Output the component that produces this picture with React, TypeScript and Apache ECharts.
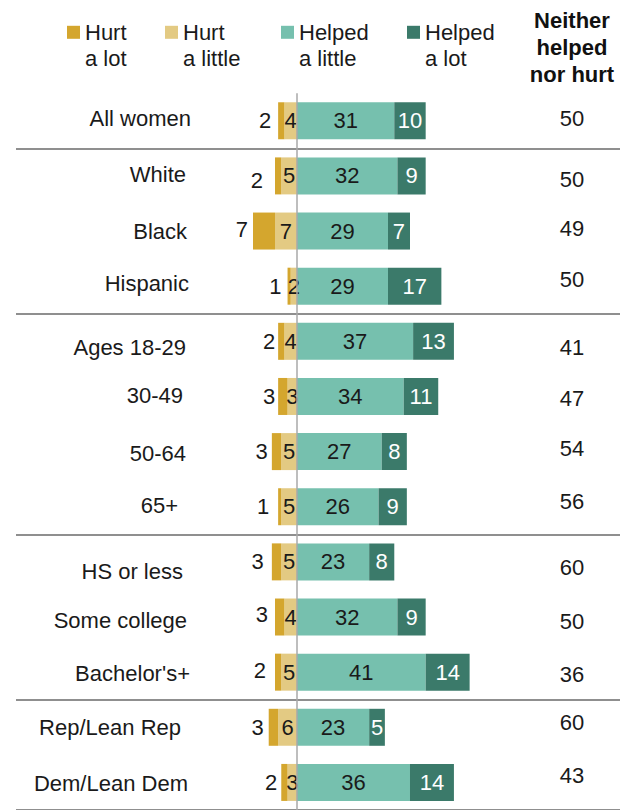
import React, { useEffect, useRef } from "react";
import * as echarts from "echarts";

const categories = [
  "All women",
  "White",
  "Black",
  "Hispanic",
  "Ages 18-29",
  "30-49",
  "50-64",
  "65+",
  "HS or less",
  "Some college",
  "Bachelor's+",
  "Rep/Lean Rep",
  "Dem/Lean Dem",
];
const hurtALot = [2, 2, 7, 1, 2, 3, 3, 1, 3, 3, 2, 3, 2];
const hurtALittle = [4, 5, 7, 2, 4, 3, 5, 5, 5, 4, 5, 6, 3];
const helpedALittle = [31, 32, 29, 29, 37, 34, 27, 26, 23, 32, 41, 23, 36];
const helpedALot = [10, 9, 7, 17, 13, 11, 8, 9, 8, 9, 14, 5, 14];
const neither = [50, 50, 49, 50, 41, 47, 54, 56, 60, 50, 36, 60, 43];
const groupStarts = [1, 4, 8, 11];

// layout nudges (pixels) copied from the reference's hand-placed labels
const catLabelDy = [-2, -1, 0, -3, 6, -1, 2, -1, 10, 3, 1, 0, 1];
const catLabelDx = [0, 5, 4, 2, 5, 8, 5, 13, 8, 4, 1, 10, 3];
const neitherDy = [-2, 4, -3, -7, 6, 2, -3, -5, 6, 4, 2, -5, -7];
const hurtLotGap = [7, 12, 5, 6, 3, 3, 4, 9, 8, 7, 9, 5, 4];
const hurtLotDy = [0, 5, -2, 0, 0, 0, 0, 0, 0, -3, -2, 0, 0];

const FONT = '"Liberation Sans", Arial, sans-serif';
const C_HURT_LOT = "#D4A62E";
const C_HURT_LITTLE = "#E3CA83";
const C_HELP_LITTLE = "#76C0AE";
const C_HELP_LOT = "#3B7A6A";
const TXT = "#1a1a1a";

const nudgeStyle = (dy: number, dx: number) => ({
  fontFamily: FONT,
  fontSize: 22,
  color: TXT,
  padding: [dy > 0 ? 2 * dy : 0, dx, dy < 0 ? -2 * dy : 0, 0],
});

export default function App() {
  const ref = useRef<HTMLDivElement>(null);
  useEffect(() => {
    if (!ref.current) return;
    const chart = echarts.init(ref.current, null, { renderer: "svg" });
    const legendBase = (name: string, left: number) => ({
      data: [name],
      left,
      top: -6.7,
      padding: 0,
      orient: "horizontal",
      itemWidth: 13,
      itemHeight: 13,
      icon: "rect",
      selectedMode: false,
      formatter: (n: string) => "\n" + n,
      textStyle: {
        fontFamily: FONT,
        fontSize: 22,
        lineHeight: 26,
        color: TXT,
      },
      itemGap: 0,
    });
    const barLabel = (pos: string, color: string) => ({
      show: true,
      position: pos,
      distance: 6,
      color,
      fontFamily: FONT,
      fontSize: 22,
      formatter: (p: any) => String(Math.abs(p.value)),
    });
    const catRich: any = {};
    const neiRich: any = {};
    categories.forEach((_c, i) => {
      catRich["c" + i] = nudgeStyle(catLabelDy[i], catLabelDx[i]);
      neiRich["n" + i] = nudgeStyle(neitherDy[i], 0);
    });
    chart.setOption({
      animation: false,
      legend: [
        legendBase("Hurt\na lot", 67),
        legendBase("Hurt\na little", 165),
        legendBase("Helped\na little", 281),
        legendBase("Helped\na lot", 407),
      ],
      graphic: [
        {
          type: "text",
          x: 572,
          y: 7,
          style: {
            text: "Neither\nhelped\nnor hurt",
            textAlign: "center",
            textVerticalAlign: "top",
            fontFamily: FONT,
            fontWeight: "bold",
            fontSize: 22,
            lineHeight: 27,
            fill: "#111",
          },
        },
      ],
      grid: { left: 16, right: 4, top: 93.2, height: 722, containLabel: false },
      xAxis: { type: "value", min: -89.5, max: 102.9, show: false },
      yAxis: [
        {
          type: "category",
          data: categories,
          inverse: true,
          position: "left",
          axisLine: { show: false },
          axisTick: { show: false },
          axisLabel: {
            inside: true,
            interval: 0,
            margin: 175,
            align: "right",
            fontFamily: FONT,
            fontSize: 22,
            color: TXT,
            formatter: (v: string, i: number) => `{c${i}|${v}}`,
            rich: catRich,
          },
          splitLine: {
            show: true,
            interval: (index: number) => groupStarts.indexOf(index) >= 0,
            lineStyle: { color: "#8f8f8f", width: 2 },
          },
        },
        {
          type: "category",
          data: categories,
          inverse: true,
          position: "right",
          axisLine: { show: false },
          axisTick: { show: false },
          splitLine: { show: false },
          axisLabel: {
            inside: true,
            interval: 0,
            margin: 48,
            align: "center",
            fontFamily: FONT,
            fontSize: 22,
            color: TXT,
            formatter: (_v: string, i: number) => `{n${i}|${neither[i]}}`,
            rich: neiRich,
          },
        },
      ],
      series: [
        {
          name: "Hurt\na little",
          type: "bar",
          stack: "s",
          barWidth: 37,
          data: hurtALittle.map((v) => -v),
          itemStyle: { color: C_HURT_LITTLE },
          label: barLabel("inside", TXT),
        },
        {
          name: "Hurt\na lot",
          type: "bar",
          stack: "s",
          barWidth: 37,
          data: hurtALot.map((v, i) => ({
            value: -v,
            label: { distance: hurtLotGap[i], offset: [0, hurtLotDy[i]] },
          })),
          itemStyle: { color: C_HURT_LOT },
          label: barLabel("left", TXT),
        },
        {
          name: "Helped\na little",
          type: "bar",
          stack: "s",
          barWidth: 37,
          data: helpedALittle,
          itemStyle: { color: C_HELP_LITTLE },
          label: barLabel("inside", TXT),
          markLine: {
            silent: true,
            symbol: "none",
            label: { show: false },
            lineStyle: { color: "#a8a8a8", width: 1.5, type: "solid" },
            data: [{ xAxis: 0 }],
          },
        },
        {
          name: "Helped\na lot",
          type: "bar",
          stack: "s",
          barWidth: 37,
          data: helpedALot,
          itemStyle: { color: C_HELP_LOT },
          label: barLabel("inside", "#ffffff"),
        },
      ],
    });
    return () => chart.dispose();
  }, []);
  return (
    <div
      ref={ref}
      style={{ position: "fixed", left: 0, top: 0, width: 624, height: 810, background: "#fff" }}
    />
  );
}
